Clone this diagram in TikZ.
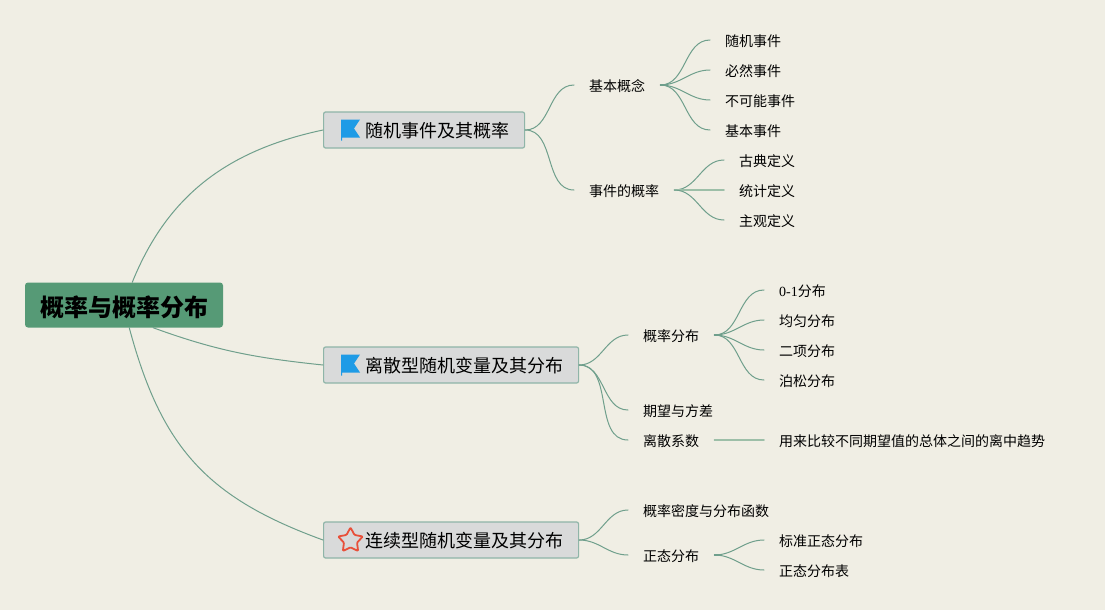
\documentclass[tikz,border=0pt]{standalone}
\usepackage{fontspec}
\setmainfont{Noto Sans CJK SC}
\newfontfamily\digitfont{Liberation Serif}
\usetikzlibrary{positioning,shapes.geometric}
\definecolor{paper}{HTML}{F0EEE4}
\definecolor{rootgreen}{HTML}{569A76}
\definecolor{boxgrey}{HTML}{D9DADA}
\definecolor{boxline}{HTML}{8FB5A8}
\definecolor{linkgreen}{HTML}{6F9F8C}
\definecolor{barelink}{HTML}{9DBFA8}
\definecolor{flagblue}{HTML}{1E9BE6}
\definecolor{starred}{HTML}{E8503A}
\begin{document}
\begin{tikzpicture}[x=1pt, y=-1pt, line join=round, line cap=round,
    root/.style={fill=rootgreen, rounded corners=3pt, minimum width=198pt, minimum height=45pt, inner sep=0pt, text height=22pt, text depth=0pt, font=\fontsize{24}{24}\selectfont\bfseries},
    branch/.style={draw=boxline, fill=boxgrey, line width=1.2pt, rounded corners=2pt, anchor=west, minimum height=36pt, inner xsep=15.5pt, inner ysep=0pt, text height=15.8pt, text depth=0.2pt, font=\fontsize{18}{18}\selectfont, execute at begin node={\hspace*{26pt}}},
    leaf/.style={anchor=west, inner xsep=15pt, inner ysep=0pt, minimum height=14pt, text height=13pt, text depth=0pt, font=\fontsize{14}{14}\selectfont},
    link/.style={draw=linkgreen, line width=1pt},
    hubstub/.style={draw=linkgreen, line width=2.6pt, line cap=butt},
    barelinkline/.style={draw=barelink, line width=1.6pt},
    flagicon/.pic={\fill[flagblue] (0,-10) -- (19,-10) -- (13,-1) -- (19,8) -- (1,8) -- (1,11) -- (0,11) -- cycle;}]
    \useasboundingbox (0,0) rectangle (1105,610);
    \fill[paper] (0,0) rectangle (1105,610);
    \node[root] (prob) at (124,305) {概率与概率分布};
    \node[branch] (event) at (323,130) {随机事件及其概率};
    \node[branch] (discrete) at (323,365) {离散型随机变量及其分布};
    \node[branch] (cont) at (323,540) {连续型随机变量及其分布};
    \pic at (341,129.5) {flagicon};
    \pic at (341,364.5) {flagicon};
    \node[star, star points=5, star point ratio=1.9, draw=starred, line width=1.8pt, rounded corners=1pt, minimum size=26pt, inner sep=0pt] (contstar) at (350.5,540.5) {};

    \node[leaf] (basic) at (574,85) {基本概念};
    \node[leaf] (eventprob) at (574,190) {事件的概率};
    \node[leaf] (random) at (710,40) {随机事件};
    \node[leaf] (certain) at (710,70) {必然事件};
    \node[leaf] (impossible) at (710,100) {不可能事件};
    \node[leaf] (elementary) at (710,130) {基本事件};
    \node[leaf] (classic) at (724,160) {古典定义};
    \node[leaf] (statdef) at (724,190) {统计定义};
    \node[leaf] (subject) at (724,220) {主观定义};

    \node[leaf] (probdist) at (628,335) {概率分布};
    \node[leaf] (expect) at (628,410) {期望与方差};
    \node[leaf] (cv) at (628,440) {离散系数};
    \node[leaf] (zeroone) at (764,290) {{\digitfont 0-1}分布};
    \node[leaf] (uniform) at (764,320) {均匀分布};
    \node[leaf] (binom) at (764,350) {二项分布};
    \node[leaf] (poisson) at (764,380) {泊松分布};
    \node[leaf] (cvnote) at (764,440) {用来比较不同期望值的总体之间的离中趋势};

    \node[leaf] (density) at (628,510) {概率密度与分布函数};
    \node[leaf] (normal) at (628,555) {正态分布};
    \node[leaf] (stdnormal) at (764,540) {标准正态分布};
    \node[leaf] (normaltable) at (764,570) {正态分布表};

    \draw[link] (prob.70) to[out=68, in=-168, looseness=1] (event.west);
    \draw[link] (prob.-38) to[out=-20, in=174] (discrete.west);
    \draw[link] (prob.-77) to[out=-75, in=160, looseness=1.1] (cont.west);

    \draw[link] (event.east) to[out=0, in=180] (basic.west);
    \draw[link] (event.east) to[out=0, in=180] (eventprob.west);
    \draw[hubstub] (basic.east) -- +(8,0);
    \draw[link] (basic.east) to[out=0, in=180] (random.west);
    \draw[link] (basic.east) to[out=0, in=180] (certain.west);
    \draw[link] (basic.east) to[out=0, in=180] (impossible.west);
    \draw[link] (basic.east) to[out=0, in=180] (elementary.west);
    \draw[hubstub] (eventprob.east) -- +(8,0);
    \draw[link] (eventprob.east) to[out=0, in=180] (classic.west);
    \draw[barelinkline] (eventprob.east) -- (statdef.west);
    \draw[link] (eventprob.east) to[out=0, in=180] (subject.west);

    \draw[link] (discrete.east) to[out=0, in=180] (probdist.west);
    \draw[link] (discrete.east) to[out=0, in=180] (expect.west);
    \draw[link] (discrete.east) to[out=0, in=180] (cv.west);
    \draw[hubstub] (probdist.east) -- +(8,0);
    \draw[link] (probdist.east) to[out=0, in=180] (zeroone.west);
    \draw[link] (probdist.east) to[out=0, in=180] (uniform.west);
    \draw[link] (probdist.east) to[out=0, in=180] (binom.west);
    \draw[link] (probdist.east) to[out=0, in=180] (poisson.west);
    \draw[barelinkline] (cv.east) -- (cvnote.west);

    \draw[link] (cont.east) to[out=0, in=180] (density.west);
    \draw[link] (cont.east) to[out=0, in=180] (normal.west);
    \draw[hubstub] (normal.east) -- +(8,0);
    \draw[link] (normal.east) to[out=0, in=180] (stdnormal.west);
    \draw[link] (normal.east) to[out=0, in=180] (normaltable.west);
\end{tikzpicture}
\end{document}
